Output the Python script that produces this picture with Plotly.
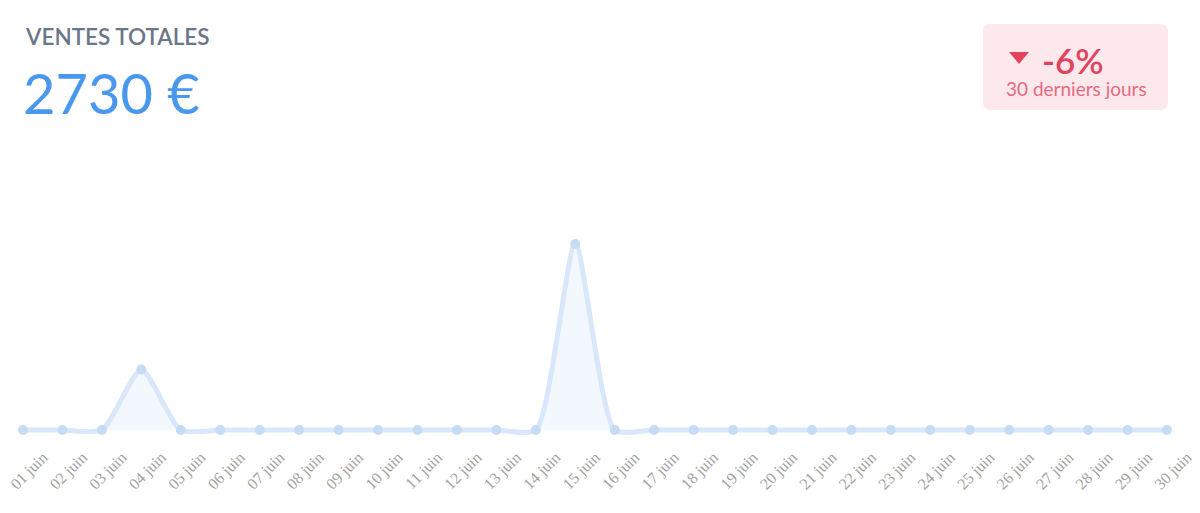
import plotly.graph_objects as go

days = [f"{d:02d} juin" for d in range(1, 31)]
sales = [0, 0, 0, 670, 0, 0, 0, 0, 0, 0, 0, 0, 0, 0, 2060,
         0, 0, 0, 0, 0, 0, 0, 0, 0, 0, 0, 0, 0, 0, 0]
title_text = "VENTES TOTALES"
total_text = "2730 €"
change_text = "-6%"
period_text = "30 derniers jours"

# page body adds an 8px offset; design in screen pixels then compensate
OFF = 8
W, H = 1200, 513
L, R, T, B = 23 - OFF, W - (1167 - OFF), 130 - OFF, H - (440 - OFF)
PW, PH = W - L - R, H - T - B
YMIN, YMAX = -110, 3323


def px(x):
    return (x - OFF - L) / PW


def py(y):
    return (H - B - (y - OFF)) / PH


def rounded_rect(xa, ya, xb, yb, r):
    pts = [
        f"M {px(xa + r)},{py(ya)}",
        f"L {px(xb - r)},{py(ya)}",
        f"Q {px(xb)},{py(ya)} {px(xb)},{py(ya + r)}",
        f"L {px(xb)},{py(yb - r)}",
        f"Q {px(xb)},{py(yb)} {px(xb - r)},{py(yb)}",
        f"L {px(xa + r)},{py(yb)}",
        f"Q {px(xa)},{py(yb)} {px(xa)},{py(yb - r)}",
        f"L {px(xa)},{py(ya + r)}",
        f"Q {px(xa)},{py(ya)} {px(xa + r)},{py(ya)}",
        "Z",
    ]
    return " ".join(pts)


fig = go.Figure()
fig.add_trace(go.Scatter(
    x=list(range(len(days))), y=sales,
    mode="lines+markers",
    line=dict(color="#d9e7fb", width=5, shape="spline", smoothing=0.6),
    marker=dict(color="#c6dbf4", size=10),
    fill="tozeroy", fillcolor="rgba(232,241,253,0.5)",
    cliponaxis=False, hoverinfo="skip",
))

fig.add_shape(type="path", xref="paper", yref="paper",
              path=rounded_rect(983, 24, 1168, 110, 8),
              fillcolor="#fde8ec", line=dict(width=0), layer="below")
fig.add_shape(type="path", xref="paper", yref="paper",
              path=f"M {px(1009)},{py(52)} L {px(1029)},{py(52)} L {px(1019)},{py(64)} Z",
              fillcolor="#e2445f", line=dict(width=0))

fig.add_annotation(xref="paper", yref="paper", x=px(23), y=py(36),
                   text=title_text, showarrow=False, xanchor="left", yanchor="middle",
                   font=dict(family="Lato", size=22.5, color="#6b7689", weight=600))
fig.add_annotation(xref="paper", yref="paper", x=px(21), y=py(92),
                   text=total_text, showarrow=False, xanchor="left", yanchor="middle",
                   font=dict(family="Lato", size=56, color="#4a98ee"))
fig.add_annotation(xref="paper", yref="paper", x=px(1040), y=py(60),
                   text=change_text, showarrow=False, xanchor="left", yanchor="middle",
                   font=dict(family="Lato", size=35, color="#e0435f", weight=600))
fig.add_annotation(xref="paper", yref="paper", x=px(1076), y=py(88),
                   text=period_text, showarrow=False, xanchor="center", yanchor="middle",
                   font=dict(family="Lato", size=19, color="#e86a80"))

fig.update_layout(
    width=W, height=H,
    margin=dict(l=L, r=R, t=T, b=B, autoexpand=False),
    paper_bgcolor="white", plot_bgcolor="white",
    showlegend=False,
    xaxis=dict(range=[0, len(days) - 1], tickmode="array", automargin=False,
               tickvals=list(range(len(days))), ticktext=days,
               tickangle=-45, showgrid=False, zeroline=False, showline=False,
               ticks="", ticklabelshift=20, ticklabelstandoff=4,
               ticklabeloverflow="allow",
               tickfont=dict(family="Liberation Serif", size=16, color="#a2a2a2")),
    yaxis=dict(range=[YMIN, YMAX], visible=False, showgrid=False, zeroline=False,
               automargin=False),
)

fig.write_html("out.html")
